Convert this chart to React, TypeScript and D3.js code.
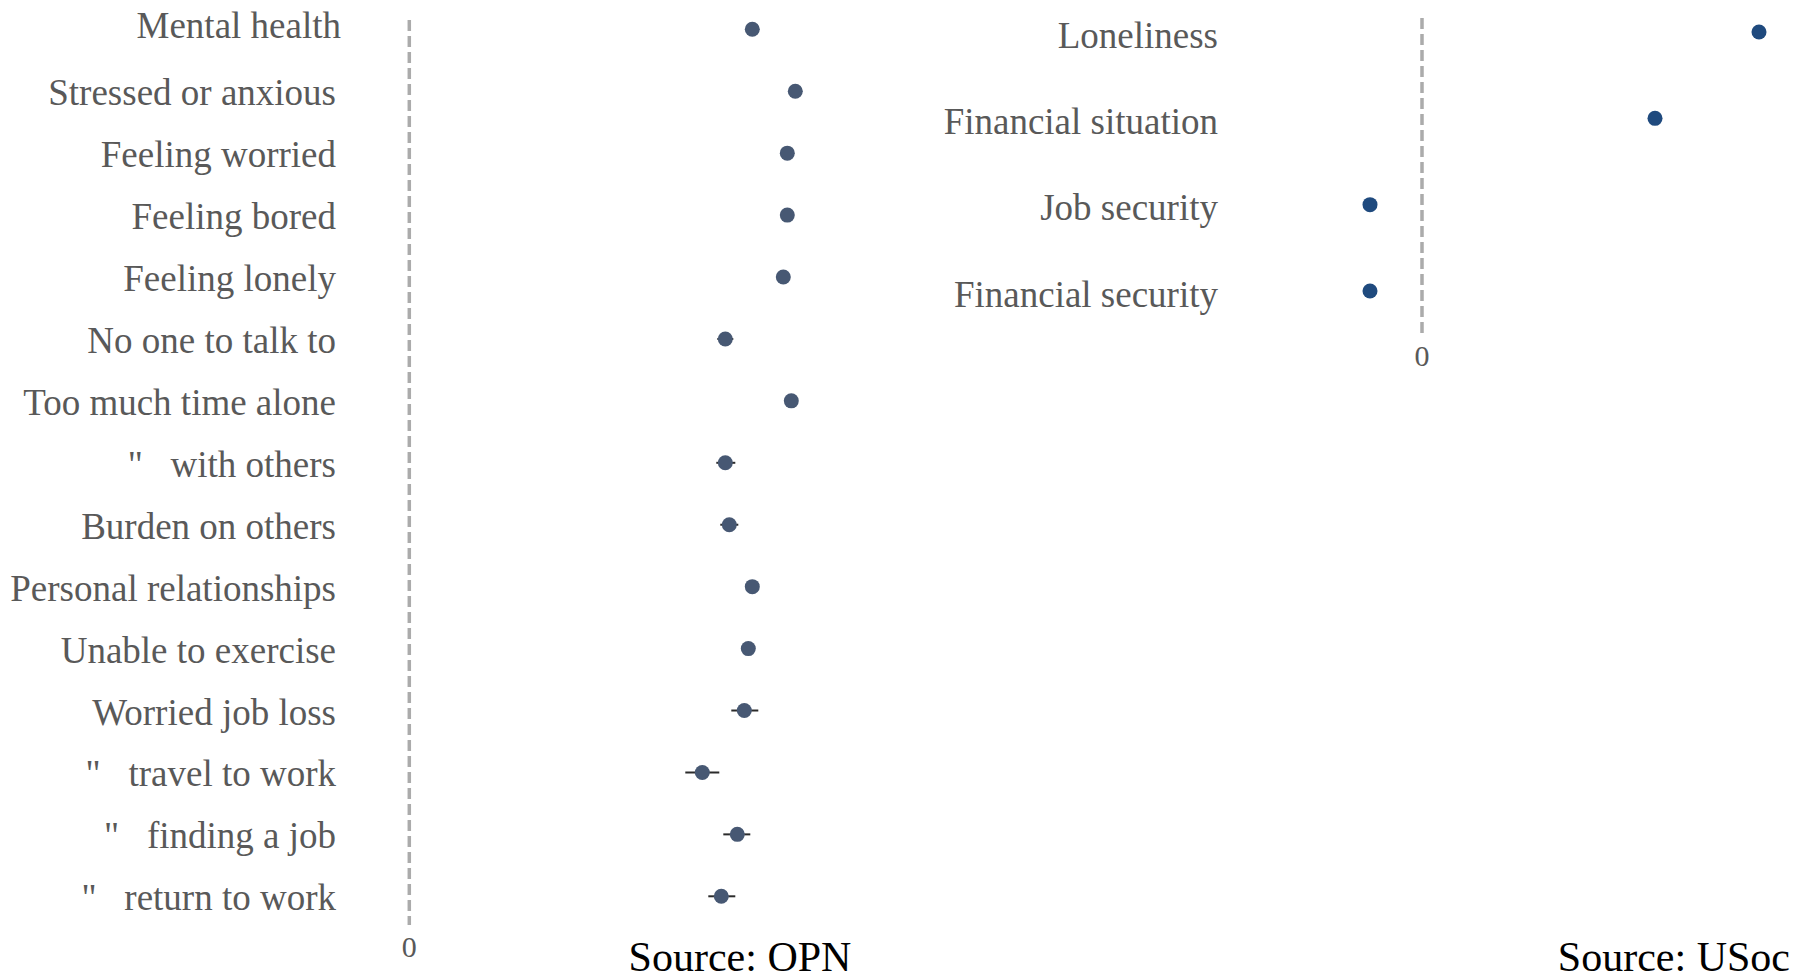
import React from "react";
import * as d3 from "d3";

// Outcomes from the OPN survey (top to bottom)
const opnItems = [
  "Mental health",
  "Stressed or anxious",
  "Feeling worried",
  "Feeling bored",
  "Feeling lonely",
  "No one to talk to",
  "Too much time alone",
  '"   with others',
  "Burden on others",
  "Personal relationships",
  "Unable to exercise",
  "Worried job loss",
  '"   travel to work',
  '"   finding a job',
  '"   return to work',
];
const opnEstimate = [
  0.343, 0.386, 0.378, 0.378, 0.374, 0.316, 0.382, 0.316, 0.32, 0.343, 0.339,
  0.335, 0.293, 0.328, 0.312,
];
const opnLower = [
  0.339, 0.382, 0.374, 0.374, 0.37, 0.308, 0.378, 0.307, 0.311, 0.339, 0.335,
  0.322, 0.276, 0.314, 0.299,
];
const opnUpper = [
  0.347, 0.39, 0.382, 0.382, 0.378, 0.324, 0.386, 0.326, 0.329, 0.347, 0.343,
  0.349, 0.31, 0.341, 0.326,
];

// Outcomes from Understanding Society
const usocItems = [
  "Loneliness",
  "Financial situation",
  "Job security",
  "Financial security",
];
const usocEstimate = [0.337, 0.233, -0.052, -0.052];

const xTicks = [0];

const W = 1812;
const H = 979;
const LABEL_FONT = "'Liberation Serif', 'Times New Roman', Times, serif";
const LABEL_COLOR = "#595959";
const REF_COLOR = "#ababab";

export default function App() {
  // left panel scales
  const xL = d3.scaleLinear().domain([0, 0.5]).range([409.3, 909.3]);
  const yL = d3.scalePoint<string>().domain(opnItems).range([29.3, 896.3]);
  // right panel scales
  const xR = d3.scaleLinear().domain([0, 0.35]).range([1422, 1772]);
  const yR = d3.scalePoint<string>().domain(usocItems).range([32, 291]);

  const labelRightL = 336;
  const labelRightR = 1218;

  return (
    <svg
      width={W}
      height={H}
      viewBox={`0 0 ${W} ${H}`}
      style={{ position: "absolute", left: 0, top: 0, background: "#fff" }}
    >
      {/* ---------- OPN panel ---------- */}
      <g>
        {xTicks.map((t) => (
          <g key={`lt${t}`}>
            <line
              x1={xL(t)}
              x2={xL(t)}
              y1={20}
              y2={925}
              stroke={REF_COLOR}
              strokeWidth={3.5}
              strokeDasharray="11 5"
            />
            <text
              x={xL(t)}
              y={957}
              textAnchor="middle"
              fontFamily={LABEL_FONT}
              fontSize={30}
              fill={LABEL_COLOR}
            >
              {d3.format("d")(t)}
            </text>
          </g>
        ))}
        {opnItems.map((name, i) => {
          const y = yL(name)!;
          const head = i === 0;
          return (
            <g key={name}>
              <text
                x={labelRightL + (head ? 5 : 0)}
                y={y + (head ? 8.5 : 14)}
                textAnchor="end"
                fontFamily={LABEL_FONT}
                fontSize={37}
                fill={LABEL_COLOR}
                style={{ whiteSpace: "pre" }}
                xmlSpace="preserve"
              >
                {name}
              </text>
              <line
                x1={xL(opnLower[i])}
                x2={xL(opnUpper[i])}
                y1={y}
                y2={y}
                stroke="#2b2b2b"
                strokeWidth={2}
              />
              <circle cx={xL(opnEstimate[i])} cy={y} r={7.5} fill="#475873" />
            </g>
          );
        })}
        <text
          x={740}
          y={971}
          textAnchor="middle"
          fontFamily={LABEL_FONT}
          fontSize={42}
          fill="#000"
        >
          Source: OPN
        </text>
      </g>

      {/* ---------- USoc panel ---------- */}
      <g>
        {xTicks.map((t) => (
          <g key={`rt${t}`}>
            <line
              x1={xR(t)}
              x2={xR(t)}
              y1={18}
              y2={334}
              stroke={REF_COLOR}
              strokeWidth={3.5}
              strokeDasharray="11 5"
            />
            <text
              x={xR(t)}
              y={366}
              textAnchor="middle"
              fontFamily={LABEL_FONT}
              fontSize={30}
              fill={LABEL_COLOR}
            >
              {d3.format("d")(t)}
            </text>
          </g>
        ))}
        {usocItems.map((name, i) => {
          const y = yR(name)!;
          return (
            <g key={name}>
              <text
                x={labelRightR}
                y={y + 15.5}
                textAnchor="end"
                fontFamily={LABEL_FONT}
                fontSize={37}
                fill={LABEL_COLOR}
              >
                {name}
              </text>
              <circle cx={xR(usocEstimate[i])} cy={y} r={7.5} fill="#1f4a7e" />
            </g>
          );
        })}
        <text
          x={1790}
          y={971}
          textAnchor="end"
          fontFamily={LABEL_FONT}
          fontSize={42}
          fill="#000"
        >
          Source: USoc
        </text>
      </g>
    </svg>
  );
}
